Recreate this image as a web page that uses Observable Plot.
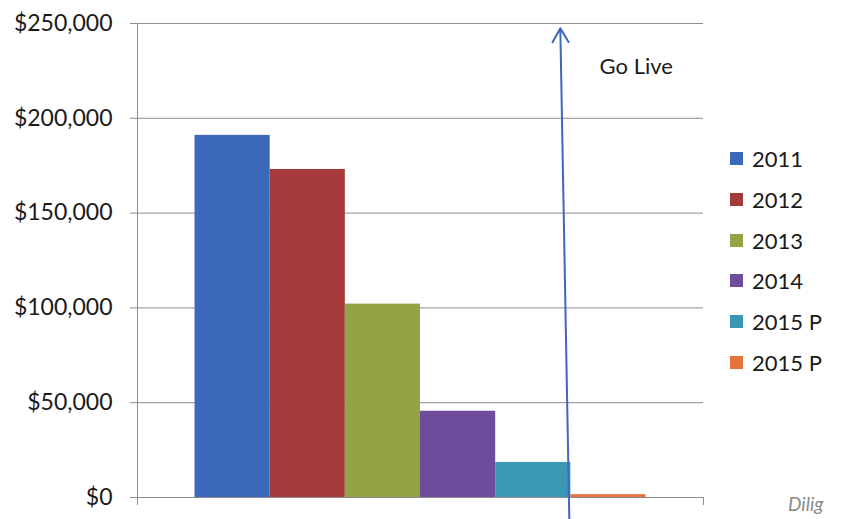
<!DOCTYPE html>
<html><head><meta charset="utf-8">
<script src="https://cdn.jsdelivr.net/npm/d3@7"></script>
<script src="https://cdn.jsdelivr.net/npm/@observablehq/plot@0.6"></script>
<style>
html,body{margin:0;padding:0;background:#fff;overflow:hidden;width:843px;height:519px;}
#wrap{position:relative;width:843px;height:519px;font-family:Lato,sans-serif;}
.leg{position:absolute;left:730px;font-size:22px;color:#1a1a1a;display:flex;align-items:center;}
.leg span.sw{display:inline-block;width:13px;height:13px;margin-right:9px;}
#dili{position:absolute;left:788px;top:492px;font-size:19px;font-style:italic;color:#8a8a8a;white-space:nowrap;}
</style></head>
<body><div id="wrap"></div>
<script>
const series = ["2011", "2012", "2013", "2014", "2015 P", "2015 P "];
const legendLabels = ["2011", "2012", "2013", "2014", "2015 P", "2015 P"];
const values = [191000, 173000, 102000, 45500, 18500, 1500];
const colors = ["#3c68b9", "#a43a3a", "#94a346", "#6f4d9c", "#3a98b5", "#e6733b"];
const yTicks = [0, 50000, 100000, 150000, 200000, 250000];
const annotationArrow = [{xTop: 4.86, yTop: 247500, xBottom: 4.98, yBottom: -11800}];
const annotationText = [{x: 5.87, y: 227000, text: "Go Live"}];
const footerText = "Dilig";

const data = series.map((s, i) => ({s, i, v: values[i]}));
const xDom = [-0.765, 6.765];
const fmt = d => "$" + d3.format(",")(d);

const chart = Plot.plot({
  width: 843, height: 519,
  marginLeft: 137, marginRight: 140, marginTop: 23, marginBottom: 22,
  style: {fontFamily: "Lato, sans-serif", fontSize: "23px", color: "#1a1a1a", background: "transparent"},
  x: {type: "linear", domain: xDom, axis: null},
  y: {domain: [0, 250000], ticks: yTicks},
  color: {domain: series, range: colors},
  marks: [
    Plot.ruleY(yTicks, {x1: xDom[0], x2: xDom[1], stroke: "#8c8c8c", strokeWidth: 1}),
    Plot.axisY({ticks: yTicks, tickFormat: fmt, tickSize: 7, tickPadding: 18, stroke: "#8c8c8c", strokeOpacity: 1, fill: "#1a1a1a", fontSize: 23}),
    Plot.ruleX([xDom[0]], {y1: -4200, y2: 250000, stroke: "#8c8c8c"}),
    Plot.ruleX([xDom[1]], {y1: -4200, y2: 0, stroke: "#8c8c8c"}),
    Plot.rectY(data, {x1: d => d.i, x2: d => d.i + 1, y: "v", fill: "s"}),
    Plot.arrow(annotationArrow, {x1: "xBottom", y1: "yBottom", x2: "xTop", y2: "yTop", stroke: "#3f66c0", strokeWidth: 2, headLength: 12, bend: 0}),
    Plot.text(annotationText, {x: "x", y: "y", text: "text", fontSize: 22, fill: "#1a1a1a"})
  ]
});
document.getElementById("wrap").appendChild(chart);

legendLabels.forEach((l, i) => {
  const d = document.createElement("div");
  d.className = "leg";
  d.style.top = (145 + i * 40.8) + "px";
  d.innerHTML = `<span class="sw" style="background:${colors[i]}"></span>${l}`;
  document.getElementById("wrap").appendChild(d);
});
const dl = document.createElement("div");
dl.id = "dili"; dl.textContent = footerText;
document.getElementById("wrap").appendChild(dl);
</script></body></html>
